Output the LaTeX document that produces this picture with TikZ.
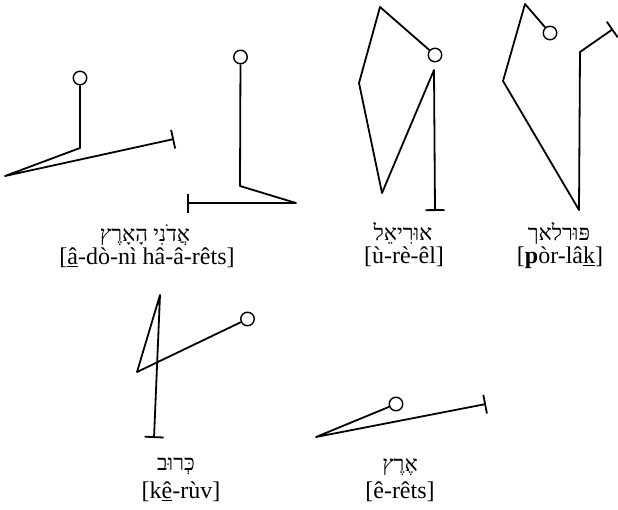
\documentclass[tikz,border=0pt]{standalone}
\usepackage{fontspec}
\setmainfont{Liberation Serif}
\newfontfamily\hebfont[Script=Hebrew]{Liberation Serif}
\TeXXeTstate=1
\usetikzlibrary{arrows.meta}
\tikzset{
  stroke/.style={line width=1.8pt, line join=round, black},
  head/.style={circle, draw, line width=1.4pt, minimum size=13.5pt, inner sep=0pt},
  heb/.style={font=\hebfont\fontsize{22}{24}\selectfont, inner sep=0pt, text height=12pt, text depth=2pt},
  tr/.style={font=\fontsize{24}{26}\selectfont, inner sep=0pt, text height=15pt, text depth=4pt},
  tbar/.style={-{Bar[width=19pt]}}
}
\begin{document}
\begin{tikzpicture}[x=1pt,y=-1pt]
\useasboundingbox (0,0) rectangle (618,509);
% figure 1
\node[head] (h1) at (80,78) {};
\coordinate (a1) at (80,148);
\coordinate (a2) at (5,176);
\coordinate (a3) at (174,139);
\draw[stroke,tbar] (h1) -- (a1) -- (a2) -- (a3);
% figure 2
\node[head] (h2) at (240.5,57) {};
\coordinate (c1) at (240,186);
\coordinate (c2) at (296,203);
\coordinate (c3) at (187,203);
\draw[stroke,tbar] (h2) -- (c1) -- (c2) -- (c3);
% figure 3
\node[head] (h3) at (435,55) {};
\coordinate (d1) at (380,7);
\coordinate (d2) at (359,83);
\coordinate (d3) at (382,193);
\coordinate (d4) at (434,70);
\coordinate (d5) at (435,211);
\draw[stroke,tbar] (h3) -- (d1) -- (d2) -- (d3) -- (d4) -- (d5);
% figure 4
\node[head] (h4) at (550,33) {};
\coordinate (e1) at (525,4);
\coordinate (e2) at (503,81);
\coordinate (e3) at (579,210);
\coordinate (e4) at (580,52);
\coordinate (e5) at (613,29);
\draw[stroke,tbar] (h4) -- (e1) -- (e2) -- (e3) -- (e4) -- (e5);
% figure 5
\node[head] (h5) at (247.5,319) {};
\coordinate (f1) at (137,372);
\coordinate (f2) at (160,295);
\coordinate (f3) at (154,438);
\draw[stroke,tbar] (h5) -- (f1) -- (f2) -- (f3);
% figure 6
\node[head] (h6) at (396,404) {};
\coordinate (g1) at (316,437);
\coordinate (g2) at (486,404);
\draw[stroke,tbar] (h6) -- (g1) -- (g2);
% labels
\node[heb] (t1) at (145,236) {\beginR אֲדֹנִי הָאָרֶץ\endR};
\node[tr] (s1) at (147,259) {[\underline{â}-dò-nì hâ-â-rêts]};
\node[heb] (t3) at (403,235) {\beginR אוּרִיאֵל\endR};
\node[tr] (s3) at (404,258) {[ù-rè-êl]};
\node[heb] (t4) at (559,235) {\beginR פּוּרלאך\endR};
\node[tr] (s4) at (560,258) {[\textbf{p}òr-lâ\underline{k}]};
\node[heb] (t5) at (176,465) {\beginR כְּרוּב\endR};
\node[tr] (s5) at (181,493) {[k\underline{ê}-rùv]};
\node[heb] (t6) at (400,466) {\beginR אֶרֶץ\endR};
\node[tr] (s6) at (400,493) {[ê-rêts]};
\end{tikzpicture}
\end{document}
